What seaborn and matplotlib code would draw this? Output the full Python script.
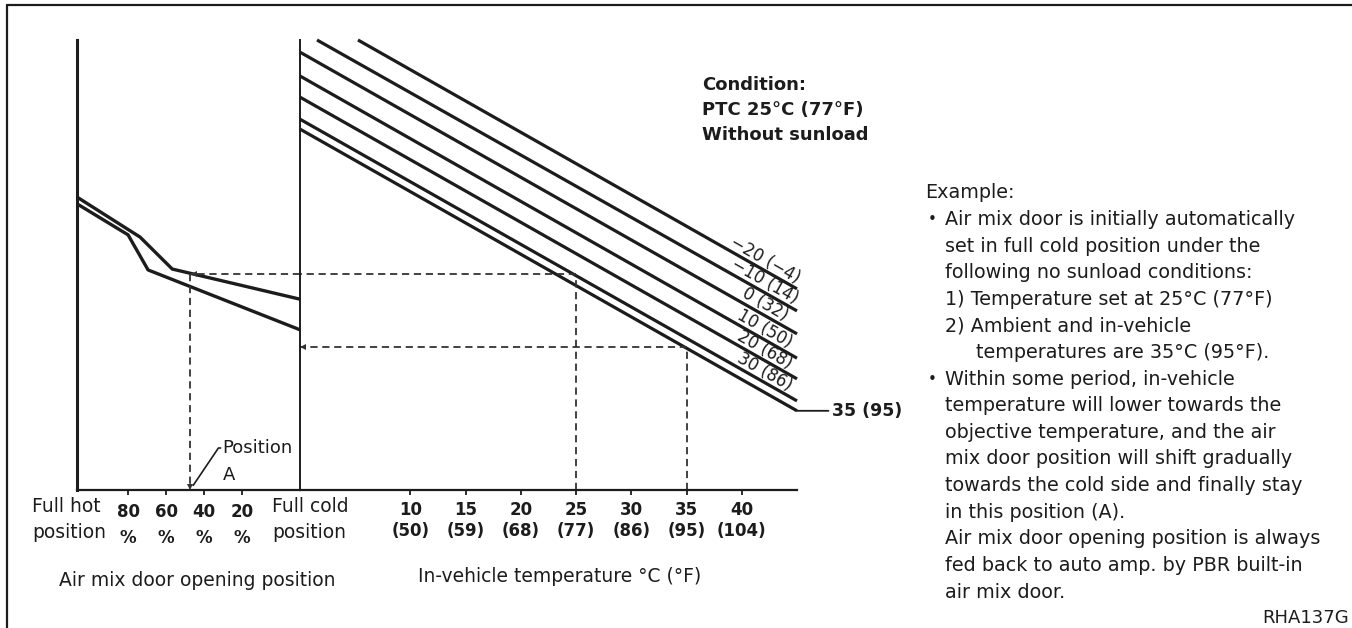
import numpy as np
import pandas as pd
import matplotlib
matplotlib.use("Agg")
import matplotlib.pyplot as plt
import matplotlib.transforms as mtransforms
from matplotlib.lines import Line2D
import seaborn as sns

# ------------------------------------------------------------------ data
# Left panel: air mix door opening (%) vs. control level (arbitrary 0-100 units)
door_tick_values = [80, 60, 40, 20]
door_tick_top = ["80", "60", "40", "20"]
door_tick_bottom = ["%", "%", "%", "%"]
# the printed door scale is not evenly spaced: opening % -> fraction of panel
# width measured from the full-cold (right) edge
door_scale_pct = [0, 20, 40, 60, 80, 100]
door_scale_frac = [0.0, 0.259, 0.430, 0.600, 0.771, 1.0]

upper_curve_pct = [100, 73.7, 56.8, 0]
upper_curve_level = [65.1, 56.2, 49.1, 42.4]
lower_curve_pct = [100, 80, 69.5, 0]
lower_curve_level = [63.6, 56.7, 48.9, 35.6]

# Right panel: in-vehicle temperature (degC) vs. level, one line per ambient temp
ambient_c = [-20, -10, 0, 10, 20, 30, 35]
ambient_f = [-4, 14, 32, 50, 68, 86, 95]
line_start_temp = [5.25, 1.54, 0, 0, 0, 0, 0]
line_start_level = [100, 100, 97.3, 92.0, 87.3, 82.4, 80.2]
line_end_temp = [45, 45, 45, 45, 45, 45, 45]
line_end_level = [44.7, 39.8, 34.7, 29.3, 24.7, 19.8, 17.6]

temp_ticks_c = [10, 15, 20, 25, 30, 35, 40]
temp_ticks_f = [50, 59, 68, 77, 86, 95, 104]

# worked example (dashed guides)
example_temp = [25, 35]
example_level = [48.0, 31.8]
position_a_pct = 47.4

condition_lines = ["Condition:", "PTC 25°C (77°F)", "Without sunload"]
example_lines = [
    (0, False, "Example:"),
    (1, True, "Air mix door is initially automatically"),
    (1, False, "set in full cold position under the"),
    (1, False, "following no sunload conditions:"),
    (1, False, "1) Temperature set at 25°C (77°F)"),
    (1, False, "2) Ambient and in-vehicle"),
    (2, False, "temperatures are 35°C (95°F)."),
    (1, True, "Within some period, in-vehicle"),
    (1, False, "temperature will lower towards the"),
    (1, False, "objective temperature, and the air"),
    (1, False, "mix door position will shift gradually"),
    (1, False, "towards the cold side and finally stay"),
    (1, False, "in this position (A)."),
    (1, False, "Air mix door opening position is always"),
    (1, False, "fed back to auto amp. by PBR built-in"),
    (1, False, "air mix door."),
]

# ------------------------------------------------------------------ style
INK = "#1c1c1c"
GUIDE = "#333333"
W, H = 1352, 628
sns.set_theme(style="white")
plt.rcParams["font.family"] = ["DejaVu Sans"]
plt.rcParams["text.color"] = INK
plt.rcParams["axes.edgecolor"] = INK

fig = plt.figure(figsize=(W / 100, H / 100), dpi=100)
fig.patch.set_facecolor("white")


def fx(x):
    return x / W


def fy(y):
    return 1 - y / H


axL = fig.add_axes([fx(77), fy(490), 223 / W, 450 / H])
axR = fig.add_axes([fx(300), fy(490), 497 / W, 450 / H])
for ax in (axL, axR):
    ax.set_facecolor("none")

# ------------------------------------------------------------------ left panel
def fwd(p):
    return np.interp(p, door_scale_pct, door_scale_frac)


def inv(f):
    return np.interp(f, door_scale_frac, door_scale_pct)


axL.set_xscale("function", functions=(fwd, inv))
left_df = pd.DataFrame({
    "pct": upper_curve_pct + lower_curve_pct,
    "level": upper_curve_level + lower_curve_level,
    "curve": ["upper"] * len(upper_curve_pct) + ["lower"] * len(lower_curve_pct),
})
sns.lineplot(data=left_df, x="pct", y="level", units="curve", estimator=None,
             sort=False, color=INK, lw=2.4, ax=axL, legend=False)
axL.set_xlim(100, 0)   # full hot on the left, full cold on the right
axL.set_ylim(0, 100)

# ------------------------------------------------------------------ right panel
rows = []
for c, xs, ys, xe, ye in zip(ambient_c, line_start_temp, line_start_level,
                             line_end_temp, line_end_level):
    rows.append({"temp": xs, "level": ys, "ambient": c})
    rows.append({"temp": xe, "level": ye, "ambient": c})
right_df = pd.DataFrame(rows)
sns.lineplot(data=right_df, x="temp", y="level", units="ambient", estimator=None,
             sort=False, color=INK, lw=2.3, ax=axR, legend=False)
axR.set_xlim(0, 45)
axR.set_ylim(0, 100)
for ln in axL.lines + axR.lines:
    ln.set_clip_on(False)
    ln.set_solid_capstyle("butt")

# axes cosmetics
for ax in (axL, axR):
    ax.set_xlabel("")
    ax.set_ylabel("")
    ax.set_yticks([])
    ax.spines["top"].set_visible(False)
    ax.spines["right"].set_visible(False)
    ax.spines["bottom"].set_linewidth(1.6)
axL.spines["left"].set_linewidth(2.2)
axR.spines["left"].set_linewidth(1.4)

axL.set_xticks(door_tick_values, labels=door_tick_top)
axL.xaxis.set_minor_locator(matplotlib.ticker.NullLocator())
axL.tick_params(axis="x", length=3.6, width=1.3, pad=5.5, labelsize=12,
                direction="out", colors=INK)
axR.set_xticks(temp_ticks_c, labels=[str(c) for c in temp_ticks_c])
axR.tick_params(axis="x", length=3.6, width=1.3, pad=4.2, labelsize=12,
                direction="out", colors=INK)
for ax in (axL, axR):
    ax.tick_params(axis="x", bottom=True)
    for lab in ax.get_xticklabels():
        lab.set_fontweight("bold")

trL = mtransforms.blended_transform_factory(axL.transData, fig.transFigure)
for v, s in zip(door_tick_values, door_tick_bottom):
    axL.text(v, fy(538), s, transform=trL, ha="center", va="center",
             fontsize=12, fontweight="bold")
trR = mtransforms.blended_transform_factory(axR.transData, fig.transFigure)
for c, f in zip(temp_ticks_c, temp_ticks_f):
    axR.text(c, fy(531), f"({f})", transform=trR, ha="center", va="center",
             fontsize=12, fontweight="bold")

# ------------------------------------------------------------------ dashed guides
dash = dict(color=GUIDE, lw=1.3, ls=(0, (4, 2.6)), clip_on=False)
axR.plot([example_temp[0]] * 2, [0, example_level[0]], **dash)
axR.plot([example_temp[0], 0], [example_level[0]] * 2, **dash)
axL.plot([0, position_a_pct], [example_level[0]] * 2, **dash)
axL.plot([position_a_pct] * 2, [example_level[0], 0], **dash)
axR.plot([example_temp[1]] * 2, [0, example_level[1]], **dash)
axR.plot([example_temp[1], 0], [example_level[1]] * 2, **dash)


def head(ax, x, y, marker, dx_pt, dy_pt, ms=5):
    tr = ax.transData + mtransforms.ScaledTranslation(dx_pt / 72, dy_pt / 72,
                                                      fig.dpi_scale_trans)
    ax.plot([x], [y], marker=marker, ms=ms, color=GUIDE, mew=0,
            transform=tr, clip_on=False, ls="none")


head(axL, position_a_pct, example_level[0], "<", 2.5, 0)
head(axL, position_a_pct, 0, "v", 0, 2.5)
head(axR, 0, example_level[1], "<", 2.5, 0)

# ------------------------------------------------------------------ line labels
for c, f, xe, ye in zip(ambient_c[:-1], ambient_f[:-1], line_end_temp[:-1],
                        line_end_level[:-1]):
    lab = f"{c} ({f})".replace("-", "\u2212")
    axR.annotate(lab, xy=(xe, ye), xytext=(-23, 21), textcoords="offset points",
                 ha="center", va="center", rotation=-29.6,
                 rotation_mode="anchor", fontsize=12)
axR.annotate(f"{ambient_c[-1]} ({ambient_f[-1]})",
             xy=(line_end_temp[-1], line_end_level[-1]), xytext=(25, 0),
             textcoords="offset points", ha="left", va="center", fontsize=12.5,
             fontweight="bold",
             arrowprops=dict(arrowstyle="-", color=INK, lw=1.3, shrinkA=0,
                             shrinkB=0))

# Position A
axL.annotate("Position", xy=(position_a_pct, 0), xytext=(fx(222), fy(448)),
             textcoords="figure fraction", ha="left", va="center", fontsize=13,
             arrowprops=dict(arrowstyle="-", color=INK, lw=1.2, shrinkA=1,
                             shrinkB=4, relpos=(0, 0.5), patchA=None,
                             connectionstyle="angle,angleA=0,angleB=56,rad=0"))
fig.text(fx(223), fy(475), "A", ha="left", va="center", fontsize=13)

# ------------------------------------------------------------------ axis texts
fig.text(fx(32), fy(507), "Full hot", ha="left", va="center", fontsize=13.5)
fig.text(fx(32), fy(533), "position", ha="left", va="center", fontsize=13.5)
fig.text(fx(272), fy(507), "Full cold", ha="left", va="center", fontsize=13.5)
fig.text(fx(272), fy(533), "position", ha="left", va="center", fontsize=13.5)
fig.text(fx(197), fy(581), "Air mix door opening position", ha="center",
         va="center", fontsize=13.5)
fig.text(fx(560), fy(577), "In-vehicle temperature °C (°F)", ha="center",
         va="center", fontsize=13.5)

for i, s in enumerate(condition_lines):
    fig.text(fx(702), fy(85 + i * 25), s, ha="left", va="center", fontsize=13,
             fontweight="bold")

indent_px = {0: 925, 1: 945, 2: 976}
for i, (lvl, bullet, s) in enumerate(example_lines):
    y = 193 + i * 26.6
    fig.text(fx(indent_px[lvl]), fy(y), s, ha="left", va="center", fontsize=13.8)
    if bullet:
        fig.text(fx(928), fy(y), "\u2022", ha="left", va="center", fontsize=11)
fig.text(fx(1349), fy(618), "RHA137G", ha="right", va="center", fontsize=13)

# outer frame (top and left rules)
fig.add_artist(Line2D([fx(7), 1], [fy(5), fy(5)], transform=fig.transFigure,
                      lw=1.6, color=INK))
fig.add_artist(Line2D([fx(7), fx(7)], [0, fy(5)], transform=fig.transFigure,
                      lw=1.6, color=INK))

fig.savefig("out.png", dpi=100, facecolor="white")
